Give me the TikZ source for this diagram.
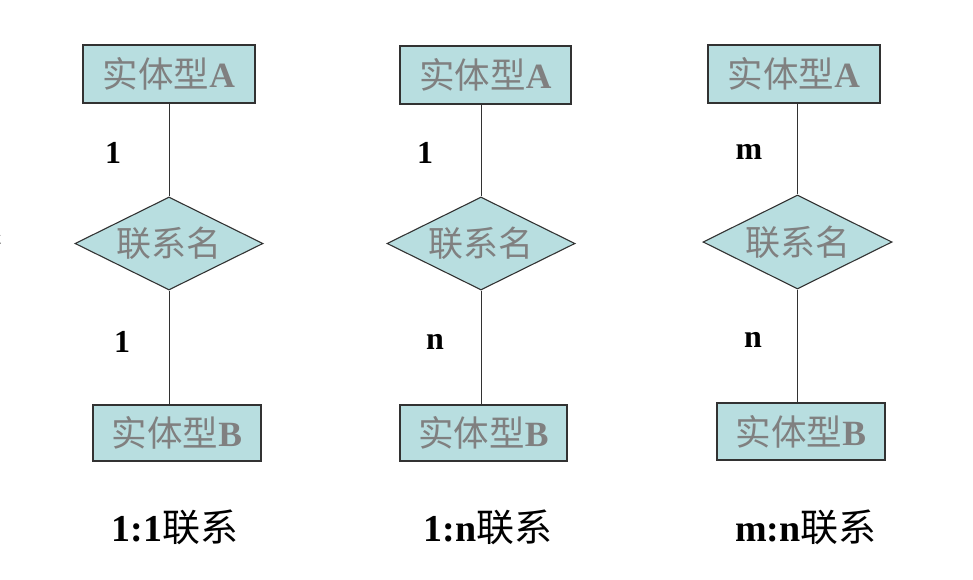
\documentclass[tikz,border=0pt]{standalone}
\usepackage{fontspec}
\setmainfont{Liberation Serif}
\newfontfamily\cjk{Noto Sans CJK SC}
\usetikzlibrary{shapes.geometric}
\definecolor{boxfill}{RGB}{184,222,224}
\definecolor{txtgray}{RGB}{128,128,128}
\definecolor{edgegray}{RGB}{50,50,50}
\tikzset{
  entity/.style={draw=edgegray, line width=1.1pt, fill=boxfill, inner sep=0pt,
    text=txtgray, font=\fontsize{35.5}{35.5}\selectfont},
  relation/.style={draw=edgegray, line width=1.1pt, fill=boxfill, diamond, aspect=2.02, inner sep=0pt,
    text=txtgray, font=\fontsize{35}{35}\selectfont},
  link/.style={draw=edgegray, line width=1pt},
  card/.style={font=\fontsize{32}{32}\selectfont\bfseries, text=black},
  caption/.style={font=\fontsize{38}{38}\selectfont, text=black}
}
\newcommand{\entA}{\raisebox{4pt}{{\cjk 实体型}\textbf{A}}}
\newcommand{\entB}{\raisebox{3pt}{{\cjk 实体型}\textbf{B}}}
\begin{document}
\begin{tikzpicture}[x=1pt,y=-1pt]
\useasboundingbox (0,0) rectangle (973,579);
\fill[white] (0,0) rectangle (973,579);
\begin{scope}
\clip (0,0) rectangle (973,579);
\node[font=\fontsize{34}{34}\selectfont\cjk, text=black] (frag) at (-13,232) {系};
\end{scope}
% column 1
\node[entity, minimum width=172pt, minimum height=58pt] (a1) at (169,74) {\entA};
\node[relation, minimum width=188pt, minimum height=93pt] (r1) at (169,243.5) {{\cjk 联系名}};
\node[entity, minimum width=168pt, minimum height=56pt] (b1) at (177,433) {\entB};
\draw[link] (a1.south -| r1.north) -- (r1.north);
\draw[link] (r1.south) -- (r1.south |- b1.north);
\node[card] (c1a) at (113,153) {1};
\node[card] (c1b) at (122,342) {1};
\node[caption] (t1) at (175,527) {\textbf{1:1}{\cjk 联系}};
% column 2
\node[entity, minimum width=171pt, minimum height=58pt] (a2) at (485.5,75) {\entA};
\node[relation, minimum width=188pt, minimum height=93pt] (r2) at (481,243.5) {{\cjk 联系名}};
\node[entity, minimum width=167pt, minimum height=56pt] (b2) at (483.5,433) {\entB};
\draw[link] (a2.south -| r2.north) -- (r2.north);
\draw[link] (r2.south) -- (r2.south |- b2.north);
\node[card] (c2a) at (425,153) {1};
\node[card] (c2b) at (435,342) {n};
\node[caption] (t2) at (488,527) {\textbf{1:n}{\cjk 联系}};
% column 3
\node[entity, minimum width=172pt, minimum height=58pt] (a3) at (794,74) {\entA};
\node[relation, minimum width=189pt, minimum height=94pt] (r3) at (797.5,242) {{\cjk 联系名}};
\node[entity, minimum width=168pt, minimum height=57pt] (b3) at (801,431.5) {\entB};
\draw[link] (a3.south -| r3.north) -- (r3.north);
\draw[link] (r3.south) -- (r3.south |- b3.north);
\node[card] (c3a) at (749,152) {m};
\node[card] (c3b) at (753,340) {n};
\node[caption] (t3) at (806,527) {\textbf{m:n}{\cjk 联系}};
\end{tikzpicture}
\end{document}
